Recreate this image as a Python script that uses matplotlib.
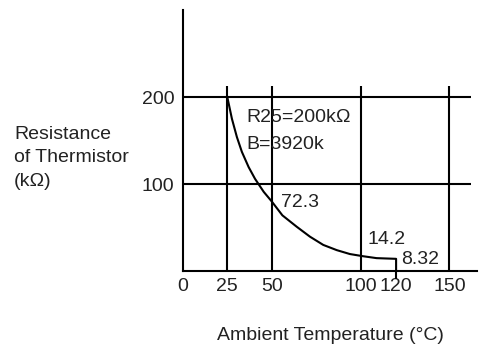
import matplotlib
matplotlib.use("Agg")
import matplotlib.pyplot as plt

plt.rcParams['font.family'] = ['Liberation Sans', 'DejaVu Sans']

# curve (temperature in degC, resistance in kOhm)
temp = [25, 27.6, 30.4, 33.2, 37, 40.6, 45.5, 50, 56, 64, 71.5, 79, 86.6, 94, 101.4, 109, 120, 120]
resistance = [200, 175, 154, 137, 119.5, 106, 91, 80, 64, 51, 39.5, 30, 24, 19.5, 17, 14.8, 14, 0]

x_ticks = [0, 25, 50, 100, 120, 150]
y_ticks = [100, 200]
x_grid = [25, 50, 100, 150]
y_grid = [100, 200]

# labelled points: (x, y, text)
point_labels = [(55.5, 79, "72.3"), (104, 36, "14.2"), (123, 13, "8.32")]

fig = plt.figure(figsize=(4.8, 3.47), dpi=100)
ax = fig.add_axes([0.381, 0.219, 0.613, 0.752])
ax.set_xlim(0, 165.6)
ax.set_ylim(0, 300)

for s in ['top', 'right']:
    ax.spines[s].set_visible(False)
for s in ['left', 'bottom']:
    ax.spines[s].set_linewidth(1.5)

ax.vlines(x_grid, 0, 213, color='black', lw=1.5)
ax.hlines(y_grid, 0, 162, color='black', lw=1.5)

ax.plot(temp, resistance, color='black', lw=1.5)
# short tick below the axis at 120
ax.plot([120, 120], [0, -8], color='black', lw=1.5, clip_on=False)

fs = 14
ax.set_xticks(x_ticks)
ax.set_yticks(y_ticks)
ax.tick_params(length=0, labelsize=fs, colors='#222222')
ax.tick_params(axis='x', pad=5)
ax.tick_params(axis='y', pad=6)

ax.text(36, 176, "R25=200k\u03a9", fontsize=fs, va='center', ha='left', color='#222222')
ax.text(36, 146, "B=3920k", fontsize=fs, va='center', ha='left', color='#222222')
for x, y, t in point_labels:
    ax.text(x, y, t, fontsize=fs, va='center', ha='left', color='#222222')

fig.text(14 / 480, 1 - 158 / 347, "Resistance\nof Thermistor\n(k\u03a9)", fontsize=fs,
         ha='left', va='center', multialignment='left', color='#222222', linespacing=1.5)
fig.text(330 / 480, 1 - 335 / 347, "Ambient Temperature (\u00b0C)", fontsize=fs,
         ha='center', va='center', color='#222222')

fig.savefig("out.png", dpi=100)
